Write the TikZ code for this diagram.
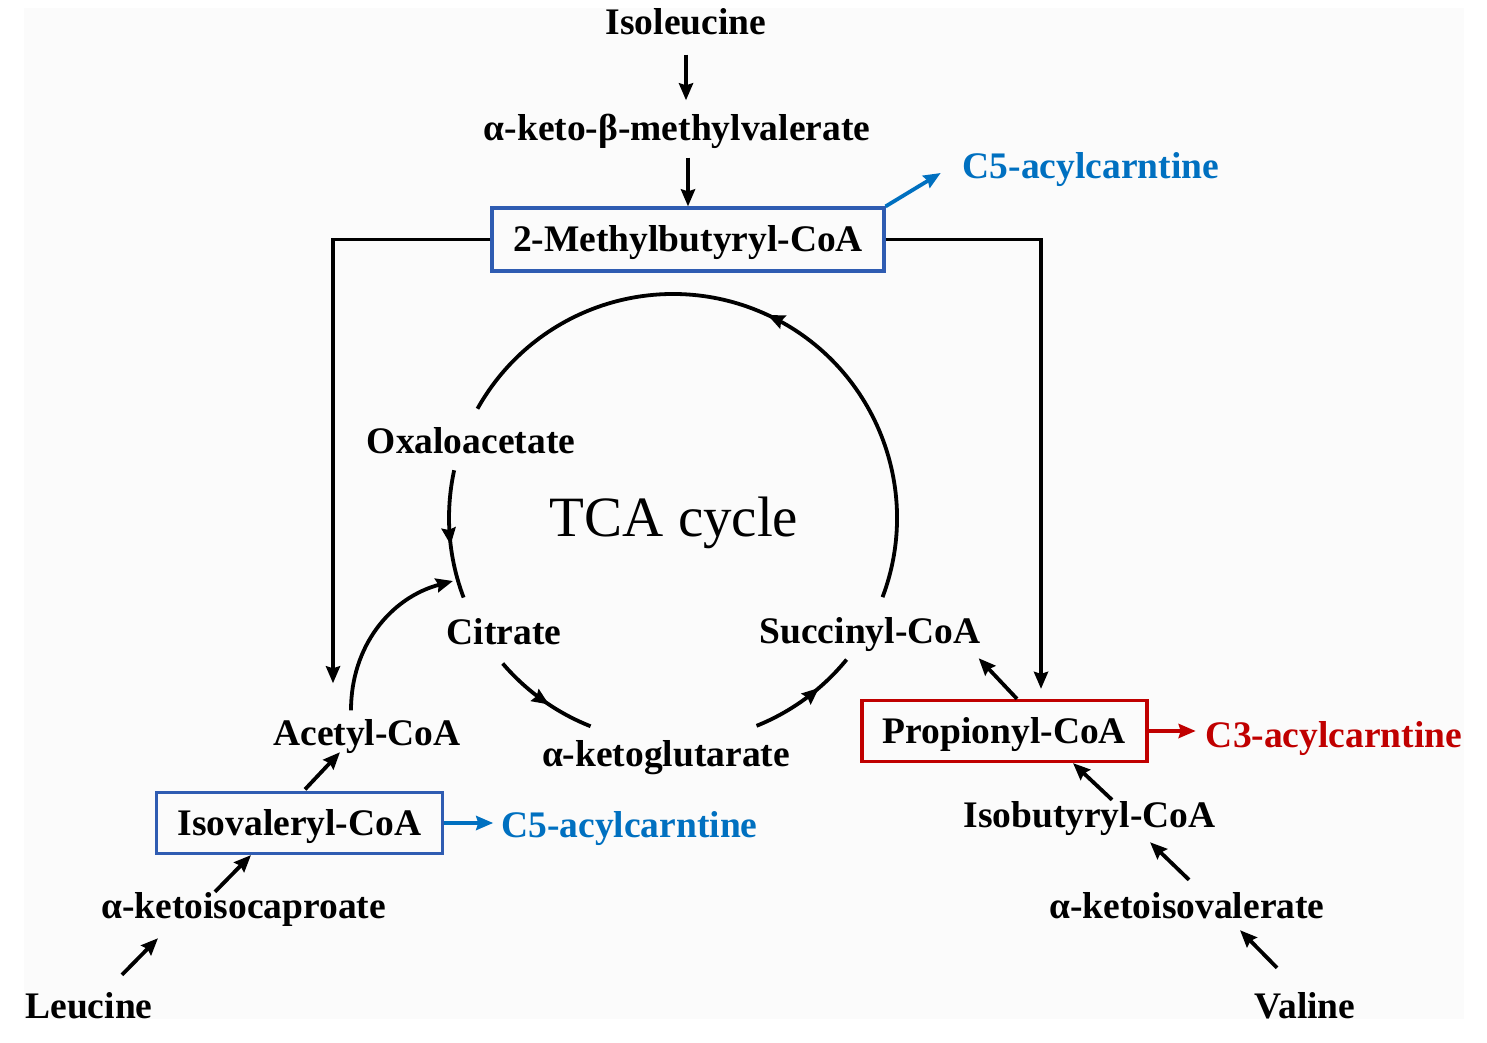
\documentclass[tikz,border=0pt]{standalone}
\usepackage{fontspec}
\setmainfont{Liberation Serif}
\usetikzlibrary{arrows.meta}
\usetikzlibrary{decorations.markings}
\definecolor{boxblue}{RGB}{47,92,178}
\definecolor{acblue}{RGB}{0,112,192}
\definecolor{acred}{RGB}{192,0,0}

\begin{document}
\begin{tikzpicture}[x=1pt, y=1pt,
  txt/.style={font=\bfseries\fontsize{37.5}{40}\selectfont, inner sep=0pt, text height=25pt, text depth=0pt},
  acbox/.style={txt, draw, line width=3.2pt, inner xsep=21pt, minimum height=61pt},
  arr/.style={line width=3.8pt, -{Stealth[length=17pt,width=14pt,inset=2pt]}},
  link/.style={line width=3.8pt},
  midarrow/.style={decoration={markings, mark=at position #1 with {\arrow{Stealth[length=17pt,width=14pt,inset=2pt]}}}, postaction={decorate}}]
\fill[black!1.5] (24,23) rectangle (1464,1034);
\useasboundingbox (0,0) rectangle (1487,1042);

\node[txt] (ile) at (686,1020) {Isoleucine};
\node[txt] (kmv) at (677,914) {α-keto-β-methylvalerate};
\node[acbox, draw=boxblue, minimum height=63pt] (mb) at (688,802.5) {2-Methylbutyryl-CoA};
\node[txt, text=acblue] (c5a) at (1091,876) {C5-acylcarntine};
\node[txt] (oaa) at (471,601) {Oxaloacetate};
\node[txt] (cit) at (504,410) {Citrate};
\node[txt] (suc) at (870,411) {Succinyl-CoA};
\node[txt] (akg) at (666,288) {α-ketoglutarate};
\node[txt] (acoa) at (367,309) {Acetyl-CoA};
\node[acbox, draw=boxblue] (iv) at (299.5,219) {Isovaleryl-CoA};
\node[txt, text=acblue] (c5b) at (629.5,217) {C5-acylcarntine};
\node[txt] (kic) at (243.5,136) {α-ketoisocaproate};
\node[txt] (leu) at (89,36) {Leucine};
\node[acbox, draw=acred] (pr) at (1004.5,311) {Propionyl-CoA};
\node[txt, text=acred] (c3) at (1334,307) {C3-acylcarntine};
\node[txt] (ib) at (1089.5,227) {Isobutyryl-CoA};
\node[txt] (kiv) at (1187,136) {α-ketoisovalerate};
\node[txt] (val) at (1305,36) {Valine};
\node[font=\fontsize{57}{60}\selectfont, inner sep=0pt, text height=38pt, text depth=0pt] (tca) at (674,524) {TCA cycle};

\coordinate (ctr) at (673,524);
\coordinate (ctip) at (453,461);
\draw[link, midarrow=0.5] ([shift={(-20.7:224pt)}]ctr) arc[start angle=-20.7, end angle=150.8, radius=224pt];
\draw[link, midarrow=0.58] ([shift={(167.7:224pt)}]ctr) arc[start angle=167.7, end angle=200.8, radius=224pt];
\draw[link, midarrow=0.57] ([shift={(220.5:224pt)}]ctr) arc[start angle=220.5, end angle=248.4, radius=224pt];
\draw[link, midarrow=0.65] ([shift={(291.9:224pt)}]ctr) arc[start angle=291.9, end angle=320.8, radius=224pt];
\draw[arr] ([xshift=-16pt,yshift=10pt]acoa.north) to[out=90, in=195] (ctip);

\draw[arr] ([yshift=-20pt]ile.south) -- ([xshift=9pt,yshift=15pt]kmv.north);
\draw[arr] ([xshift=11pt,yshift=-17pt]kmv.south) -- (mb.north);
\draw[arr, acblue] (mb.north east) -- ([xshift=-22pt,yshift=-7pt]c5a.west);
\draw[arr] (mb.west) -| ([xshift=-34pt,yshift=37pt]acoa.north);
\draw[arr] (mb.east) -| ([xshift=36.5pt,yshift=10pt]pr.north);
\draw[arr] ([xshift=12.5pt]pr.north) -- ([xshift=-2pt,yshift=-14.5pt]suc.south east);
\draw[arr, acred] (pr.east) -- ([xshift=-10pt,yshift=4pt]c3.west);
\draw[arr] ([xshift=22.5pt,yshift=2.5pt]ib.north) -- ([xshift=68.5pt]pr.south);
\draw[arr] ([xshift=2pt,yshift=13.5pt]kiv.north) -- ([xshift=60.5pt,yshift=-14.5pt]ib.south);
\draw[arr] ([xshift=-28pt,yshift=25.5pt]val.north) -- ([xshift=53pt,yshift=-11.5pt]kiv.south);
\draw[arr, acblue] (iv.east) -- ([xshift=-8pt,yshift=2pt]c5b.west);
\draw[arr] ([xshift=-28.5pt,yshift=1.5pt]kic.north) -- ([xshift=-48.5pt]iv.south);
\draw[arr] ([xshift=33pt,yshift=18.5pt]leu.north) -- ([xshift=-85.5pt,yshift=-19.5pt]kic.south);
\draw[arr] ([xshift=5.5pt,yshift=1.5pt]iv.north) -- ([xshift=-27pt,yshift=-6.5pt]acoa.south);
\end{tikzpicture}
\end{document}
